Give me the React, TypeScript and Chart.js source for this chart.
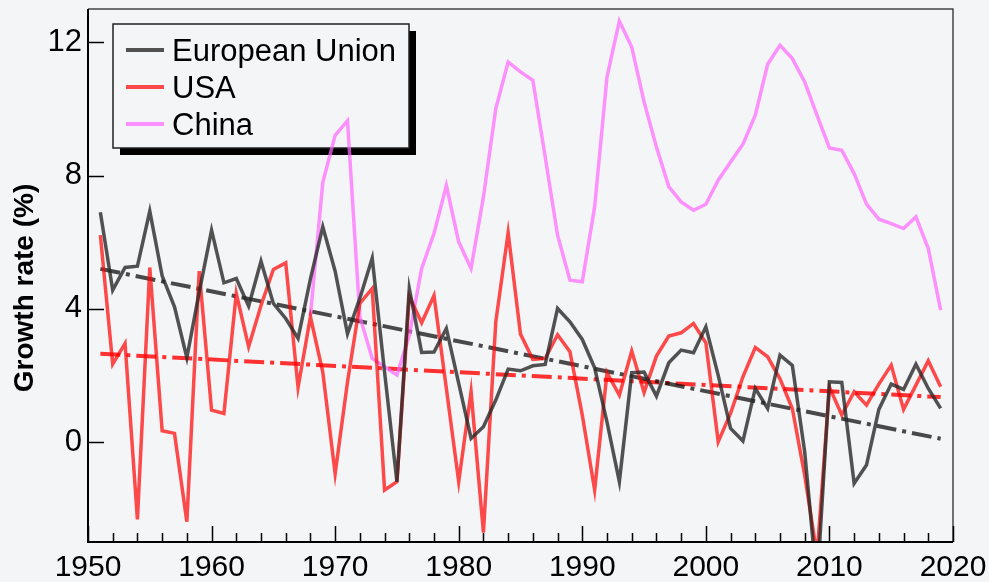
import React, { useEffect, useRef } from 'react';
import { Chart, registerables } from 'chart.js';

Chart.register(...registerables);

const FONT = '"Liberation Sans", Arial, sans-serif';

const years = [
  1951, 1952, 1953, 1954, 1955, 1956, 1957, 1958, 1959, 1960,
  1961, 1962, 1963, 1964, 1965, 1966, 1967, 1968, 1969, 1970,
  1971, 1972, 1973, 1974, 1975, 1976, 1977, 1978, 1979, 1980,
  1981, 1982, 1983, 1984, 1985, 1986, 1987, 1988, 1989, 1990,
  1991, 1992, 1993, 1994, 1995, 1996, 1997, 1998, 1999, 2000,
  2001, 2002, 2003, 2004, 2005, 2006, 2007, 2008, 2009, 2010,
  2011, 2012, 2013, 2014, 2015, 2016, 2017, 2018, 2019,
];

const euValues = [
  6.9, 4.56, 5.24, 5.28, 6.93, 4.99, 4.06, 2.53, 4.5, 6.36,
  4.78, 4.91, 4.08, 5.43, 4.16, 3.71, 3.11, 4.9, 6.46, 5.13,
  3.25, 4.32, 5.52, 2.1, -1.19, 4.61, 2.69, 2.7, 3.41, 1.76,
  0.11, 0.46, 1.26, 2.19, 2.14, 2.29, 2.33, 4.01, 3.61, 3.08,
  2.23, 0.6, -1.19, 2.08, 2.1, 1.38, 2.38, 2.76, 2.68, 3.46,
  2.0, 0.41, 0.03, 1.61, 1.01, 2.61, 2.3, -0.3, -4.3, 1.81,
  1.79, -1.24, -0.69, 0.98, 1.74, 1.58, 2.34, 1.61, 1.01,
];

const usaValues = [
  6.21, 2.34, 2.96, -2.32, 5.24, 0.34, 0.26, -2.39, 5.13, 0.96,
  0.86, 4.46, 2.86, 4.1, 5.18, 5.38, 1.64, 3.76, 2.1, -0.95,
  1.8, 4.16, 4.61, -1.44, -1.19, 4.37, 3.58, 4.4, 1.61, -1.19,
  1.51, -2.72, 3.61, 6.28, 3.24, 2.48, 2.51, 3.22, 2.71, 0.81,
  -1.44, 2.08, 1.41, 2.73, 1.49, 2.58, 3.18, 3.28, 3.56, 2.98,
  0.01, 0.86, 1.96, 2.84, 2.56, 1.9, 1.0, -1.0, -3.4, 1.65,
  0.81, 1.51, 1.11, 1.74, 2.31, 0.98, 1.71, 2.44, 1.66,
];

const chinaValues = [
  null, null, null, null, null, null, null, null, null, null,
  null, null, null, null, null, null, null, 3.8, 7.8, 9.21,
  9.65, 3.76, 2.51, 2.26, 2.01, 3.2, 5.21, 6.26, 7.7, 6.01,
  5.21, 7.36, 10.01, 11.41, 11.11, 10.86, 8.56, 6.21, 4.86, 4.81,
  7.06, 10.96, 12.64, 11.86, 10.21, 8.86, 7.67, 7.21, 6.96, 7.14,
  7.86, 8.41, 8.94, 9.81, 11.34, 11.91, 11.51, 10.81, 9.81, 8.83,
  8.76, 8.06, 7.14, 6.69, 6.56, 6.41, 6.76, 5.81, 3.96,
];

const trendYears = [1951, 2019];
const euTrend = [5.2, 0.1];
const usaTrend = [2.65, 1.35];

const seriesNames = ['European Union', 'USA', 'China'];
const xTicks = [1950, 1960, 1970, 1980, 1990, 2000, 2010, 2020];
const xMinorTicks = [
  1952, 1954, 1956, 1958, 1962, 1964, 1966, 1968, 1972, 1974, 1976, 1978,
  1982, 1984, 1986, 1988, 1992, 1994, 1996, 1998, 2002, 2004, 2006, 2008,
  2012, 2014, 2016, 2018,
];
const yTicks = [0, 4, 8, 12];
const yTitle = 'Growth rate (%)';

const BG = '#f4f5f7';
const EU_COLOR = 'rgba(40,40,40,0.8)';
const USA_COLOR = 'rgba(255,0,0,0.7)';
const CHINA_COLOR = 'rgba(255,102,255,0.7)';

const toPoints = (xs: number[], ys: (number | null)[]) =>
  xs
    .map((x, i) => ({ x, y: ys[i] }))
    .filter((p) => p.y !== null && p.y !== undefined);

const decorPlugin = {
  id: 'decor',
  beforeDraw(chart: any) {
    const { ctx, width, height } = chart;
    ctx.save();
    ctx.fillStyle = BG;
    ctx.fillRect(0, 0, width, height);
    ctx.restore();
  },
  beforeDatasetsDraw(chart: any) {
    const { ctx } = chart;
    ctx.save();
    // legend (drawn beneath the data lines)
    const bx = 113, by = 24, bw = 296, bh = 124, sh = 7;
    ctx.fillStyle = '#000';
    ctx.fillRect(bx + sh, by + sh, bw, bh);
    ctx.fillStyle = BG;
    ctx.fillRect(bx, by, bw, bh);
    ctx.strokeStyle = '#222';
    ctx.lineWidth = 1.5;
    ctx.strokeRect(bx, by, bw, bh);
    const colors = [EU_COLOR, USA_COLOR, CHINA_COLOR];
    ctx.font = `31px ${FONT}`;
    ctx.textAlign = 'left';
    ctx.textBaseline = 'alphabetic';
    seriesNames.forEach((name, i) => {
      const cy = 50 + i * 37;
      ctx.strokeStyle = colors[i];
      ctx.lineWidth = 4;
      ctx.beginPath();
      ctx.moveTo(126, cy);
      ctx.lineTo(164, cy);
      ctx.stroke();
      ctx.fillStyle = '#000';
      ctx.fillText(name, 172, cy + 11);
    });
    ctx.restore();
  },
  afterDraw(chart: any) {
    const { ctx, chartArea } = chart;
    const xs = chart.scales.x;
    const ys = chart.scales.y;
    const { left, right, top, bottom } = chartArea;
    ctx.save();
    // frame: top and right
    ctx.strokeStyle = '#444';
    ctx.lineWidth = 1.5;
    ctx.beginPath();
    ctx.moveTo(left, top);
    ctx.lineTo(right, top);
    ctx.lineTo(right, bottom);
    ctx.stroke();
    // axes: left and bottom
    ctx.strokeStyle = '#000';
    ctx.lineWidth = 2;
    ctx.beginPath();
    ctx.moveTo(left, top);
    ctx.lineTo(left, bottom);
    ctx.lineTo(right, bottom);
    ctx.stroke();
    // ticks inward
    ctx.lineWidth = 1.5;
    ctx.beginPath();
    yTicks.forEach((v) => {
      const y = Math.round(ys.getPixelForValue(v)) + 0.5;
      ctx.moveTo(left, y);
      ctx.lineTo(left + 16, y);
    });
    xTicks.forEach((v) => {
      const x = Math.round(xs.getPixelForValue(v)) + 0.5;
      ctx.moveTo(x, bottom);
      ctx.lineTo(x, bottom - 16);
    });
    xMinorTicks.forEach((v) => {
      const x = Math.round(xs.getPixelForValue(v)) + 0.5;
      ctx.moveTo(x, bottom);
      ctx.lineTo(x, bottom - 9);
    });
    ctx.stroke();

    // y title
    ctx.save();
    ctx.translate(25, 288);
    ctx.rotate(-Math.PI / 2);
    ctx.font = `bold 28px ${FONT}`;
    ctx.fillStyle = '#000';
    ctx.textAlign = 'center';
    ctx.textBaseline = 'middle';
    ctx.fillText(yTitle, 0, 0);
    ctx.restore();
    ctx.restore();
  },
};

export default function App() {
  const ref = useRef<HTMLCanvasElement | null>(null);

  useEffect(() => {
    if (!ref.current) return;
    const lineBase = {
      pointRadius: 0,
      borderWidth: 3.5,
      tension: 0,
      fill: false,
    };
    const chart = new Chart(ref.current, {
      type: 'line',
      data: {
        datasets: [
          { ...lineBase, label: seriesNames[0], data: toPoints(years, euValues), borderColor: EU_COLOR },
          { ...lineBase, label: seriesNames[1], data: toPoints(years, usaValues), borderColor: USA_COLOR },
          { ...lineBase, label: seriesNames[2], data: toPoints(years, chinaValues), borderColor: CHINA_COLOR },
          {
            ...lineBase,
            label: 'EU trend',
            data: toPoints(trendYears, euTrend),
            borderColor: 'rgba(0,0,0,0.7)',
            borderWidth: 4,
            borderDash: [20, 6, 4, 6],
          },
          {
            ...lineBase,
            label: 'USA trend',
            data: toPoints(trendYears, usaTrend),
            borderColor: 'rgba(255,0,0,0.8)',
            borderWidth: 4,
            borderDash: [20, 6, 4, 6],
          },
        ],
      } as any,
      options: {
        animation: false,
        responsive: false,
        maintainAspectRatio: false,
        devicePixelRatio: 1,
        layout: { padding: { top: 9, right: 36, left: 0, bottom: 0 } },
        plugins: {
          legend: { display: false },
          tooltip: { enabled: false },
          title: { display: false },
        },
        scales: {
          x: {
            type: 'linear',
            min: 1950,
            max: 2020,
            grid: { display: false, drawTicks: false },
            border: { display: false },
            afterBuildTicks: (s: any) => {
              s.ticks = xTicks.map((v) => ({ value: v }));
            },
            afterFit: (s: any) => {
              s.height = 40;
              s.paddingLeft = 0;
              s.paddingRight = 0;
            },
            ticks: {
              font: { size: 30, family: FONT },
              color: '#000',
              padding: 8,
              maxRotation: 0,
              autoSkip: false,
              callback: (v: any) => String(v),
            },
          },
          y: {
            type: 'linear',
            min: -3,
            max: 13,
            grid: { display: false, drawTicks: false },
            border: { display: false },
            afterBuildTicks: (s: any) => {
              s.ticks = yTicks.map((v) => ({ value: v }));
            },
            afterFit: (s: any) => {
              s.width = 88;
              s.paddingTop = 0;
              s.paddingBottom = 0;
            },
            ticks: {
              font: { size: 31, family: FONT },
              color: '#000',
              padding: 6,
              callback: (v: any) => String(v),
            },
          },
        },
      } as any,
      plugins: [decorPlugin],
    });
    return () => chart.destroy();
  }, []);

  return (
    <div
      style={{
        position: 'fixed',
        left: 0,
        top: 0,
        width: 989,
        height: 582,
        background: BG,
      }}
    >
      <canvas ref={ref} width={989} height={582} style={{ display: 'block', width: 989, height: 582 }} />
    </div>
  );
}
